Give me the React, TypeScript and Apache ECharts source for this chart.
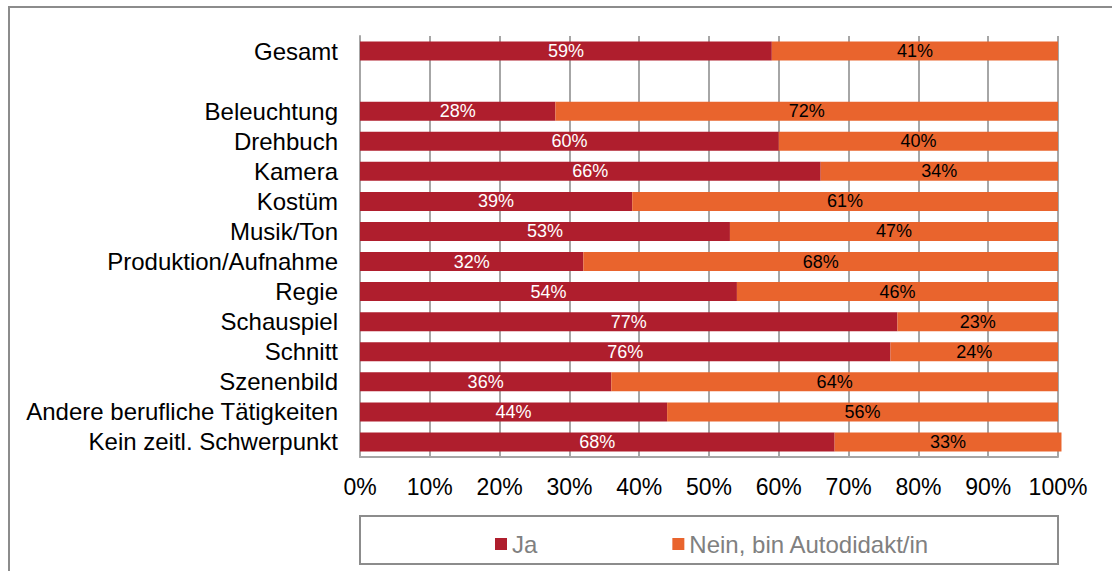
import React, { useEffect, useRef } from "react";
import * as echarts from "echarts";

const categories = [
  "Gesamt",
  "",
  "Beleuchtung",
  "Drehbuch",
  "Kamera",
  "Kostüm",
  "Musik/Ton",
  "Produktion/Aufnahme",
  "Regie",
  "Schauspiel",
  "Schnitt",
  "Szenenbild",
  "Andere berufliche Tätigkeiten",
  "Kein zeitl. Schwerpunkt",
];
const jaValues = [59, null, 28, 60, 66, 39, 53, 32, 54, 77, 76, 36, 44, 68];
const neinValues = [41, null, 72, 40, 34, 61, 47, 68, 46, 23, 24, 64, 56, 32.5];
const seriesNames = ["Ja", "Nein, bin Autodidakt/in"];
const xTicks = { min: 0, max: 100, interval: 10 };

const FONT = "'Liberation Sans', Arial, sans-serif";
const RED = "#AF1E2D";
const ORANGE = "#E9642D";
const GRID = "#a6a6a6";

export default function App() {
  const ref = useRef<HTMLDivElement>(null);
  useEffect(() => {
    if (!ref.current) return;
    const chart = echarts.init(ref.current, null, { renderer: "svg" });
    chart.setOption({
      animation: false,
      backgroundColor: "#ffffff",
      textStyle: { fontFamily: FONT },
      grid: { left: 360, right: 54, top: 36, bottom: 114, containLabel: false },
      legend: {
        data: seriesNames,
        left: 490,
        top: 527,
        icon: "rect",
        itemWidth: 12,
        itemHeight: 12,
        itemGap: 135,
        textStyle: { color: "#808080", fontSize: 24, fontFamily: FONT },
      },
      xAxis: {
        type: "value",
        min: xTicks.min,
        max: xTicks.max,
        interval: xTicks.interval,
        axisLabel: {
          formatter: "{value}%",
          color: "#000",
          fontSize: 23,
          fontFamily: FONT,
          margin: 18,
        },
        axisLine: { show: true, lineStyle: { color: GRID, width: 2 } },
        axisTick: { show: false },
        splitLine: { show: true, lineStyle: { color: GRID, width: 2 } },
      },
      yAxis: {
        type: "category",
        data: categories,
        inverse: true,
        axisLabel: {
          color: "#000",
          fontSize: 24,
          lineHeight: 26,
          fontFamily: FONT,
          margin: 22,
          interval: 0,
        },
        axisLine: { show: true, lineStyle: { color: GRID, width: 2 } },
        axisTick: { show: false },
        splitLine: { show: false },
      },
      series: [
        {
          name: seriesNames[0],
          type: "bar",
          stack: "total",
          data: jaValues,
          barWidth: 19,
          clip: false,
          itemStyle: { color: RED },
          label: {
            show: true,
            position: "inside",
            color: "#fff",
            fontSize: 18,
            fontFamily: FONT,
            formatter: (p: any) => Math.round(p.value) + "%",
          },
        },
        {
          name: seriesNames[1],
          type: "bar",
          stack: "total",
          data: neinValues,
          barWidth: 19,
          clip: false,
          itemStyle: { color: ORANGE },
          label: {
            show: true,
            position: "inside",
            color: "#000",
            fontSize: 18,
            fontFamily: FONT,
            formatter: (p: any) => Math.round(p.value) + "%",
          },
        },
      ],
      graphic: [
        {
          type: "rect",
          shape: { x: 9, y: 7, width: 1200, height: 700 },
          style: { fill: "none", stroke: "#8c8c8c", lineWidth: 2 },
          silent: true,
        },
        {
          type: "rect",
          shape: { x: 360, y: 516, width: 698, height: 48 },
          style: { fill: "none", stroke: "#8c8c8c", lineWidth: 2 },
          silent: true,
        },
      ],
    });
    return () => chart.dispose();
  }, []);
  return (
    <div
      ref={ref}
      style={{ position: "fixed", left: 0, top: 0, width: 1112, height: 571 }}
    />
  );
}
